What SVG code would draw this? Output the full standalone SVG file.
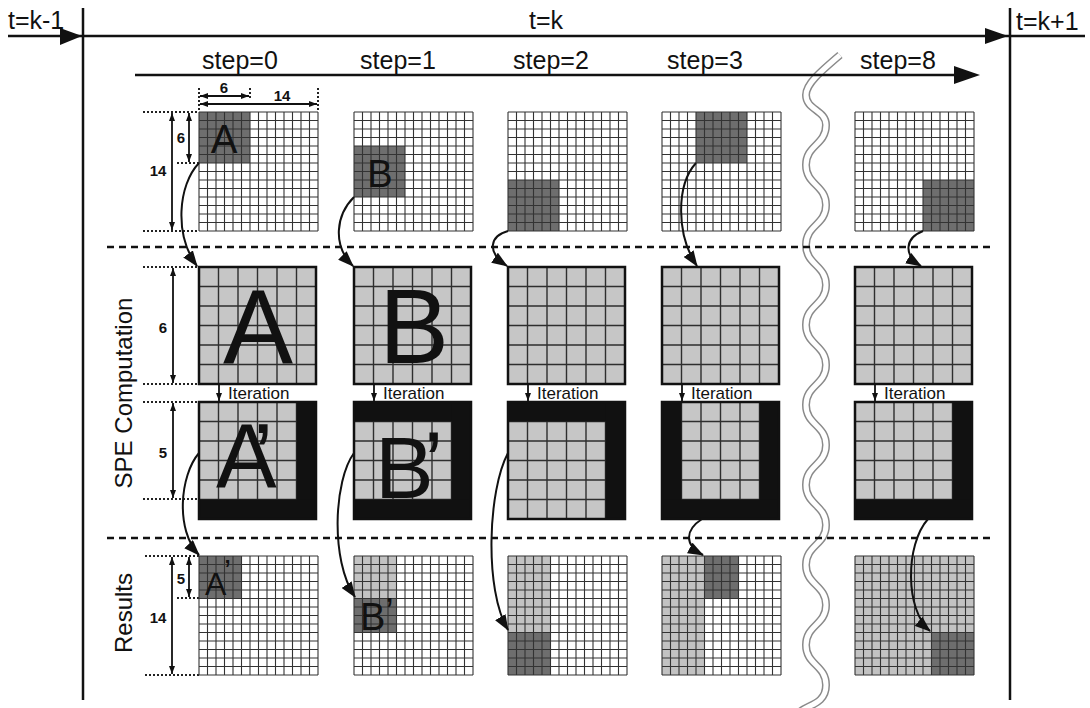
<svg xmlns="http://www.w3.org/2000/svg" width="1090" height="708" viewBox="0 0 1090 708">
<defs>
<style>
text{font-family:"Liberation Sans",Arial,sans-serif;fill:#111}
.ln{stroke:#111;stroke-width:2.5;fill:none}
.g14{stroke:#333;stroke-width:1.1;fill:none}
.g6{stroke:#2e2e2e;stroke-width:1.4;fill:none}
.wh{fill:#fff}
.dk{fill:#6e6e6e}
.lt{fill:#c2c2c2}
.spe{fill:#c6c6c6}
.blk{fill:#111}
.brd{fill:none;stroke:#111;stroke-width:2.5}
.dot{stroke:#222;stroke-width:2;stroke-dasharray:2 2;fill:none}
.dash{stroke:#111;stroke-width:2.5;stroke-dasharray:7 5;fill:none}
.dim{stroke:#111;stroke-width:1.8;marker-start:url(#ds);marker-end:url(#de)}
.itl{stroke:#111;stroke-width:1.8;marker-end:url(#de)}
.con{stroke:#111;stroke-width:2;fill:none;marker-end:url(#ah)}
.dimt{font-size:15px;font-weight:bold;text-anchor:middle}
.it{font-size:17px}
.step{font-size:25px;text-anchor:middle}
.tk{font-size:25px}
.side{font-size:24px;text-anchor:middle}
.big{font-size:105px;text-anchor:middle}
</style>
<marker id="ah" viewBox="0 0 16 12" refX="15" refY="6" markerWidth="16" markerHeight="12" markerUnits="userSpaceOnUse" orient="auto"><path d="M0,0L16,6L0,12z" fill="#111"/></marker>
<marker id="de" viewBox="0 0 8 6" refX="8" refY="3" markerWidth="8" markerHeight="6" markerUnits="userSpaceOnUse" orient="auto"><path d="M0,0L8,3L0,6z" fill="#111"/></marker>
<marker id="ds" viewBox="0 0 8 6" refX="8" refY="3" markerWidth="8" markerHeight="6" markerUnits="userSpaceOnUse" orient="auto-start-reverse"><path d="M0,0L8,3L0,6z" fill="#111"/></marker>
<path id="grid14" d="M0,0v119m8.5,-119v119m8.5,-119v119m8.5,-119v119m8.5,-119v119m8.5,-119v119m8.5,-119v119m8.5,-119v119m8.5,-119v119m8.5,-119v119m8.5,-119v119m8.5,-119v119m8.5,-119v119m8.5,-119v119m8.5,-119v119M0,0h119m-119,8.5h119m-119,8.5h119m-119,8.5h119m-119,8.5h119m-119,8.5h119m-119,8.5h119m-119,8.5h119m-119,8.5h119m-119,8.5h119m-119,8.5h119m-119,8.5h119m-119,8.5h119m-119,8.5h119m-119,8.5h119"/>
<path id="grid6" d="M0,0v117m19.5,-117v117m19.5,-117v117m19.5,-117v117m19.5,-117v117m19.5,-117v117m19.5,-117v117M0,0h117m-117,19.5h117m-117,19.5h117m-117,19.5h117m-117,19.5h117m-117,19.5h117m-117,19.5h117"/>
</defs>
<rect width="1090" height="708" fill="#fff"/>

<g id="wave">
<path d="M840,55 C820,72 806,84 806,95 C806,110 826,110 826,125 C826,145 806,145 806,165 S826,185 826,205 S806,225 806,245 S826,265 826,285 S806,305 806,325 S826,345 826,365 S806,385 806,405 S826,425 826,445 S806,465 806,485 S826,505 826,525 S806,545 806,565 S826,585 826,605 S806,625 806,645 S826,665 826,685 S806,705 800,712" fill="none" stroke="#8a8a8a" stroke-width="8"/>
<path d="M840,55 C820,72 806,84 806,95 C806,110 826,110 826,125 C826,145 806,145 806,165 S826,185 826,205 S806,225 806,245 S826,265 826,285 S806,305 806,325 S826,345 826,365 S806,385 806,405 S826,425 826,445 S806,465 806,485 S826,505 826,525 S806,545 806,565 S826,585 826,605 S806,625 806,645 S826,665 826,685 S806,705 800,712" fill="none" stroke="#fff" stroke-width="5"/>
</g>

<g id="timeline">
<line class="ln" x1="8" y1="36" x2="1085" y2="36"/>
<line class="ln" x1="83" y1="8" x2="83" y2="700"/>
<line class="ln" x1="1010" y1="8" x2="1010" y2="700"/>
<polygon points="82,36 60,28 60,45" fill="#111"/>
<polygon points="1008,36 985,28 985,44" fill="#111"/>
<text class="tk" x="8" y="29">t=k-1</text>
<text class="tk" x="546" y="29" text-anchor="middle">t=k</text>
<text class="tk" x="1016" y="30">t=k+1</text>
</g>

<g id="steps">
<line class="ln" x1="135" y1="75" x2="960" y2="75"/>
<polygon points="980,75 954,66 954,84" fill="#111"/>
<text class="step" x="240" y="69">step=0</text>
<text class="step" x="398" y="69">step=1</text>
<text class="step" x="551" y="69">step=2</text>
<text class="step" x="705" y="69">step=3</text>
<text class="step" x="898" y="69">step=8</text>
</g>

<g id="separators">
<line class="dash" x1="107" y1="247" x2="990" y2="247"/>
<line class="dash" x1="107" y1="538" x2="990" y2="538"/>
</g>

<g id="side-labels">
<text class="side" transform="translate(132,393) rotate(-90)">SPE Computation</text>
<text class="side" transform="translate(132,613) rotate(-90)">Results</text>
</g>

<g id="dimensions">
<line class="dot" x1="199" y1="88" x2="199" y2="112"/>
<line class="dot" x1="250" y1="88" x2="250" y2="100"/>
<line class="dot" x1="318" y1="88" x2="318" y2="112"/>
<line class="dot" x1="143" y1="112" x2="199" y2="112"/>
<line class="dot" x1="177" y1="163" x2="199" y2="163"/>
<line class="dot" x1="143" y1="231" x2="199" y2="231"/>
<line class="dot" x1="143" y1="267" x2="199" y2="267"/>
<line class="dot" x1="143" y1="384" x2="199" y2="384"/>
<line class="dot" x1="143" y1="402" x2="199" y2="402"/>
<line class="dot" x1="143" y1="499" x2="199" y2="499"/>
<line class="dot" x1="145" y1="556" x2="199" y2="556"/>
<line class="dot" x1="177" y1="598" x2="199" y2="598"/>
<line class="dot" x1="145" y1="675" x2="199" y2="675"/>
<line class="dim" x1="200" y1="96" x2="249" y2="96"/>
<line class="dim" x1="200" y1="104" x2="317" y2="104"/>
<line class="dim" x1="189" y1="113" x2="189" y2="162"/>
<line class="dim" x1="172" y1="113" x2="172" y2="230"/>
<line class="dim" x1="173" y1="268" x2="173" y2="383"/>
<line class="dim" x1="173" y1="403" x2="173" y2="498"/>
<line class="dim" x1="172" y1="557" x2="172" y2="674"/>
<line class="dim" x1="189" y1="557" x2="189" y2="597"/>
<text class="dimt" x="224" y="93">6</text>
<text class="dimt" x="282" y="101">14</text>
<text class="dimt" x="181" y="143">6</text>
<text class="dimt" x="158" y="176">14</text>
<text class="dimt" x="163" y="333">6</text>
<text class="dimt" x="163" y="458">5</text>
<text class="dimt" x="181" y="584">5</text>
<text class="dimt" x="158" y="623">14</text>
</g>

<g id="input-step0" transform="translate(199,112)">
<rect class="wh" width="119" height="119"/><rect class="dk" width="51" height="51"/>
<use href="#grid14" class="g14"/>
<text x="25" y="41" font-size="40" text-anchor="middle">A</text>
</g>
<g id="input-step1" transform="translate(354,112)">
<rect class="wh" width="119" height="119"/><rect class="dk" y="34" width="51" height="51"/>
<use href="#grid14" class="g14"/>
<text x="26" y="75" font-size="38" text-anchor="middle">B</text>
</g>
<g id="input-step2" transform="translate(508,112)">
<rect class="wh" width="119" height="119"/><rect class="dk" y="68" width="51" height="51"/>
<use href="#grid14" class="g14"/>
</g>
<g id="input-step3" transform="translate(662,112)">
<rect class="wh" width="119" height="119"/><rect class="dk" x="34" width="51" height="51"/>
<use href="#grid14" class="g14"/>
</g>
<g id="input-step8" transform="translate(855,112)">
<rect class="wh" width="119" height="119"/><rect class="dk" x="68" y="68" width="51" height="51"/>
<use href="#grid14" class="g14"/>
</g>

<g id="spe-in-step0" transform="translate(199,267)">
<rect class="spe" width="117" height="117"/><use href="#grid6" class="g6"/><rect class="brd" width="117" height="117"/>
<text class="big" x="59" y="96">A</text>
</g>
<g id="spe-in-step1" transform="translate(354,267)">
<rect class="spe" width="117" height="117"/><use href="#grid6" class="g6"/><rect class="brd" width="117" height="117"/>
<text class="big" x="60" y="96">B</text>
</g>
<g id="spe-in-step2" transform="translate(508,267)">
<rect class="spe" width="117" height="117"/><use href="#grid6" class="g6"/><rect class="brd" width="117" height="117"/>
</g>
<g id="spe-in-step3" transform="translate(662,267)">
<rect class="spe" width="117" height="117"/><use href="#grid6" class="g6"/><rect class="brd" width="117" height="117"/>
</g>
<g id="spe-in-step8" transform="translate(855,267)">
<rect class="spe" width="117" height="117"/><use href="#grid6" class="g6"/><rect class="brd" width="117" height="117"/>
</g>

<g id="iterations">
<line class="itl" x1="219" y1="384" x2="219" y2="401"/><text class="it" x="228" y="399">Iteration</text>
<line class="itl" x1="374" y1="384" x2="374" y2="401"/><text class="it" x="383" y="399">Iteration</text>
<line class="itl" x1="528" y1="384" x2="528" y2="401"/><text class="it" x="537" y="399">Iteration</text>
<line class="itl" x1="682" y1="384" x2="682" y2="401"/><text class="it" x="691" y="399">Iteration</text>
<line class="itl" x1="875" y1="384" x2="875" y2="401"/><text class="it" x="884" y="399">Iteration</text>
</g>

<g id="spe-out-step0" transform="translate(199,402)">
<rect class="spe" width="117" height="117"/><use href="#grid6" class="g6"/>
<rect class="blk" x="97.5" width="19.5" height="117"/><rect class="blk" y="97.5" width="117" height="19.5"/>
<rect class="brd" width="117" height="117"/>
<text x="17" y="85" font-size="91">A<tspan dx="-17">’</tspan></text>
</g>
<g id="spe-out-step1" transform="translate(354,402)">
<rect class="spe" width="117" height="117"/><use href="#grid6" class="g6"/>
<rect class="blk" width="117" height="19.5"/><rect class="blk" x="97.5" width="19.5" height="117"/><rect class="blk" y="97.5" width="117" height="19.5"/>
<rect class="brd" width="117" height="117"/>
<text x="21" y="96" font-size="88">B<tspan dx="-10" dy="-5">’</tspan></text>
</g>
<g id="spe-out-step2" transform="translate(508,402)">
<rect class="spe" width="117" height="117"/><use href="#grid6" class="g6"/>
<rect class="blk" width="117" height="19.5"/><rect class="blk" x="97.5" width="19.5" height="117"/>
<rect class="brd" width="117" height="117"/>
</g>
<g id="spe-out-step3" transform="translate(662,402)">
<rect class="spe" width="117" height="117"/><use href="#grid6" class="g6"/>
<rect class="blk" width="19.5" height="117"/><rect class="blk" x="97.5" width="19.5" height="117"/><rect class="blk" y="97.5" width="117" height="19.5"/>
<rect class="brd" width="117" height="117"/>
</g>
<g id="spe-out-step8" transform="translate(855,402)">
<rect class="spe" width="117" height="117"/><use href="#grid6" class="g6"/>
<rect class="blk" x="97.5" width="19.5" height="117"/><rect class="blk" y="97.5" width="117" height="19.5"/>
<rect class="brd" width="117" height="117"/>
</g>

<g id="result-step0" transform="translate(199,556)">
<rect class="wh" width="119" height="119"/><rect class="dk" width="42.5" height="42.5"/>
<use href="#grid14" class="g14"/>
<text x="6" y="39" font-size="32">A<tspan dy="-13">’</tspan></text>
</g>
<g id="result-step1" transform="translate(354,556)">
<rect class="wh" width="119" height="119"/><rect class="lt" width="42.5" height="42.5"/><rect class="dk" y="42.5" width="42.5" height="34"/>
<use href="#grid14" class="g14"/>
<text x="6" y="74" font-size="38">B<tspan dy="-5">’</tspan></text>
</g>
<g id="result-step2" transform="translate(508,556)">
<rect class="wh" width="119" height="119"/><rect class="lt" width="42.5" height="76.5"/><rect class="dk" y="76.5" width="42.5" height="42.5"/>
<use href="#grid14" class="g14"/>
</g>
<g id="result-step3" transform="translate(662,556)">
<rect class="wh" width="119" height="119"/><rect class="lt" width="42.5" height="119"/><rect class="dk" x="42.5" width="34" height="42.5"/>
<use href="#grid14" class="g14"/>
</g>
<g id="result-step8" transform="translate(855,556)">
<rect class="lt" width="119" height="119"/><rect class="dk" x="76.5" y="76.5" width="42.5" height="42.5"/>
<use href="#grid14" class="g14"/>
</g>

<g id="connectors">
<path class="con" d="M199,163 C178,185 174,235 197,266"/>
<path class="con" d="M354,197 C336,215 332,245 353,266"/>
<path class="con" d="M508,231 C490,236 486,252 507,266"/>
<path class="con" d="M696,163 C676,185 676,235 697,266"/>
<path class="con" d="M923,231 C905,238 903,255 921,266"/>
<path class="con" d="M199,453 C180,475 175,530 199,555"/>
<path class="con" d="M354,453 C334,480 330,560 355,597"/>
<path class="con" d="M508,453 C488,490 484,590 508,630"/>
<path class="con" d="M702,519 C685,530 684,545 703,555"/>
<path class="con" d="M928,519 C905,545 905,610 930,631"/>
</g>
</svg>
